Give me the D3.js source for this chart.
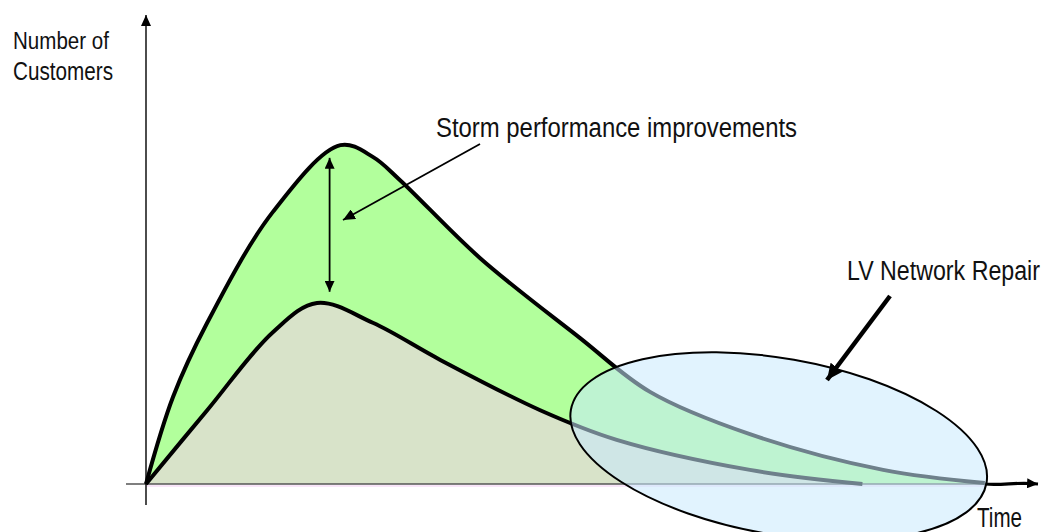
<!DOCTYPE html>
<html>
<head>
<meta charset="utf-8">
<script src="https://cdn.jsdelivr.net/npm/d3@7"></script>
<style>
  html, body { margin: 0; padding: 0; background: #fff; }
  svg { display: block; }
  text { font-family: "Liberation Sans", Arial, sans-serif; fill: #111; }
</style>
</head>
<body>
<svg id="chart" width="1047" height="532"></svg>
<script>
// Customers off supply over time, before and after storm performance improvements
const timeBefore = [0, 3, 6.8, 14.1, 21.6, 25.2, 28.2, 37.1, 48.2, 56, 67.1, 81.9, 93.2];
const customersBefore = [0, 18.5, 34.3, 57.9, 72.1, 69.6, 64.7, 48.1, 31.1, 19.6, 10.6, 3, 0.2];

const timeAfter = [0, 6.8, 14.1, 19, 25.2, 32.7, 43.8, 52.3, 67.1, 79.6];
const customersAfter = [0, 15.7, 32.3, 38.5, 34.3, 26.4, 15.7, 9.4, 3, 0];

const yAxisLabel = ["Number of", "Customers"];
const xAxisLabel = "Time";
const improvementLabel = "Storm performance improvements";
const repairLabel = "LV Network Repair";

const svg = d3.select("#chart");

const x = d3.scaleLinear().domain([0, 100]).range([146, 1046]);
const y = d3.scaleLinear().domain([0, 100]).range([484, 14]);

const before = timeBefore.map((t, i) => [t, customersBefore[i]]);
const after = timeAfter.map((t, i) => [t, customersAfter[i]]);

const curve = d3.curveCatmullRom.alpha(0.5);
const area = d3.area().x(d => x(d[0])).y0(y(0)).y1(d => y(d[1])).curve(curve);
const line = d3.line().x(d => x(d[0])).y(d => y(d[1])).curve(curve);

// arrowhead markers
const defs = svg.append("defs");
function marker(id, w, h) {
  defs.append("marker")
    .attr("id", id)
    .attr("viewBox", `0 0 ${w} ${h}`)
    .attr("refX", w).attr("refY", h / 2)
    .attr("markerWidth", w).attr("markerHeight", h)
    .attr("markerUnits", "userSpaceOnUse")
    .attr("orient", "auto-start-reverse")
    .append("path")
    .attr("d", `M0,0L${w},${h / 2}L0,${h}Z`)
    .attr("fill", "#000");
}
marker("headSmall", 11, 10);
marker("headPointer", 12, 11);
marker("headAxis", 11, 10);
marker("headBig", 16, 15);

// filled areas
svg.append("path").datum(before).attr("d", area).attr("fill", "#b2ff9c");
svg.append("path").datum(after).attr("d", area).attr("fill", "#d8e3c9");

// baseline tint just under the axis
svg.append("line")
  .attr("x1", x(0)).attr("x2", x(93.2))
  .attr("y1", y(0) + 2).attr("y2", y(0) + 2)
  .attr("stroke", "#f3cdf3").attr("stroke-width", 1.2);

// x axis
svg.append("line")
  .attr("x1", 126).attr("x2", x(93.2))
  .attr("y1", y(0)).attr("y2", y(0))
  .attr("stroke", "#555").attr("stroke-width", 1.3);
svg.append("path")
  .attr("d", `M${x(93.2)},${y(0)} C1000,${y(0) + 1.5} 1015,${y(0) - 1.5} 1030,${y(0) - 0.5} L1038,${y(0)}`)
  .attr("fill", "none").attr("stroke", "#000").attr("stroke-width", 3.2)
  .attr("marker-end", "url(#headAxis)");

// y axis
svg.append("line")
  .attr("x1", x(0)).attr("x2", x(0))
  .attr("y1", 505).attr("y2", y(100) + 1)
  .attr("stroke", "#000").attr("stroke-width", 1.4)
  .attr("marker-end", "url(#headAxis)");

// curves
svg.append("path").datum(before).attr("d", line)
  .attr("fill", "none").attr("stroke", "#000").attr("stroke-width", 4).attr("stroke-linejoin", "round");
svg.append("path").datum(after).attr("d", line)
  .attr("fill", "none").attr("stroke", "#000").attr("stroke-width", 4).attr("stroke-linejoin", "round");

// improvement double arrow between the two peaks
const peakT = 20.4;
svg.append("line")
  .attr("x1", x(peakT)).attr("x2", x(peakT))
  .attr("y1", y(71.1) + 8).attr("y2", y(39.2) - 8)
  .attr("stroke", "#000").attr("stroke-width", 1.8)
  .attr("marker-start", "url(#headSmall)")
  .attr("marker-end", "url(#headSmall)");

// LV network repair region
svg.append("ellipse")
  .attr("cx", x(70.3)).attr("cy", y(8))
  .attr("rx", 211).attr("ry", 88)
  .attr("transform", `rotate(10, ${x(70.3)}, ${y(8)})`)
  .attr("fill", "#c8eafd").attr("fill-opacity", 0.55)
  .attr("stroke", "#000").attr("stroke-width", 2);

// labels: narrow type, drawn at a size that fits the width and stretched upright
function label(txt, px, py, size, width, stretch) {
  svg.append("text")
    .attr("transform", `translate(${px},${py}) scale(1,${stretch})`)
    .attr("font-size", size)
    .attr("textLength", width)
    .attr("lengthAdjust", "spacingAndGlyphs")
    .text(txt);
}
label(yAxisLabel[0], 13, 49, 20.6, 96, 1.2);
label(yAxisLabel[1], 13, 80, 20.7, 100, 1.2);
label(improvementLabel, 436, 137, 23.9, 361, 1.17);
label(repairLabel, 847, 280, 23, 193, 1.21);
label(xAxisLabel, 977, 527, 20.3, 45, 1.35);

// pointer from the improvement label
svg.append("line")
  .attr("x1", 480).attr("y1", 144)
  .attr("x2", 343).attr("y2", 220)
  .attr("stroke", "#000").attr("stroke-width", 1.8)
  .attr("marker-end", "url(#headPointer)");

// pointer from the repair label
svg.append("line")
  .attr("x1", 890).attr("y1", 296)
  .attr("x2", 827).attr("y2", 380)
  .attr("stroke", "#000").attr("stroke-width", 4.5)
  .attr("marker-end", "url(#headBig)");
</script>
</body>
</html>
